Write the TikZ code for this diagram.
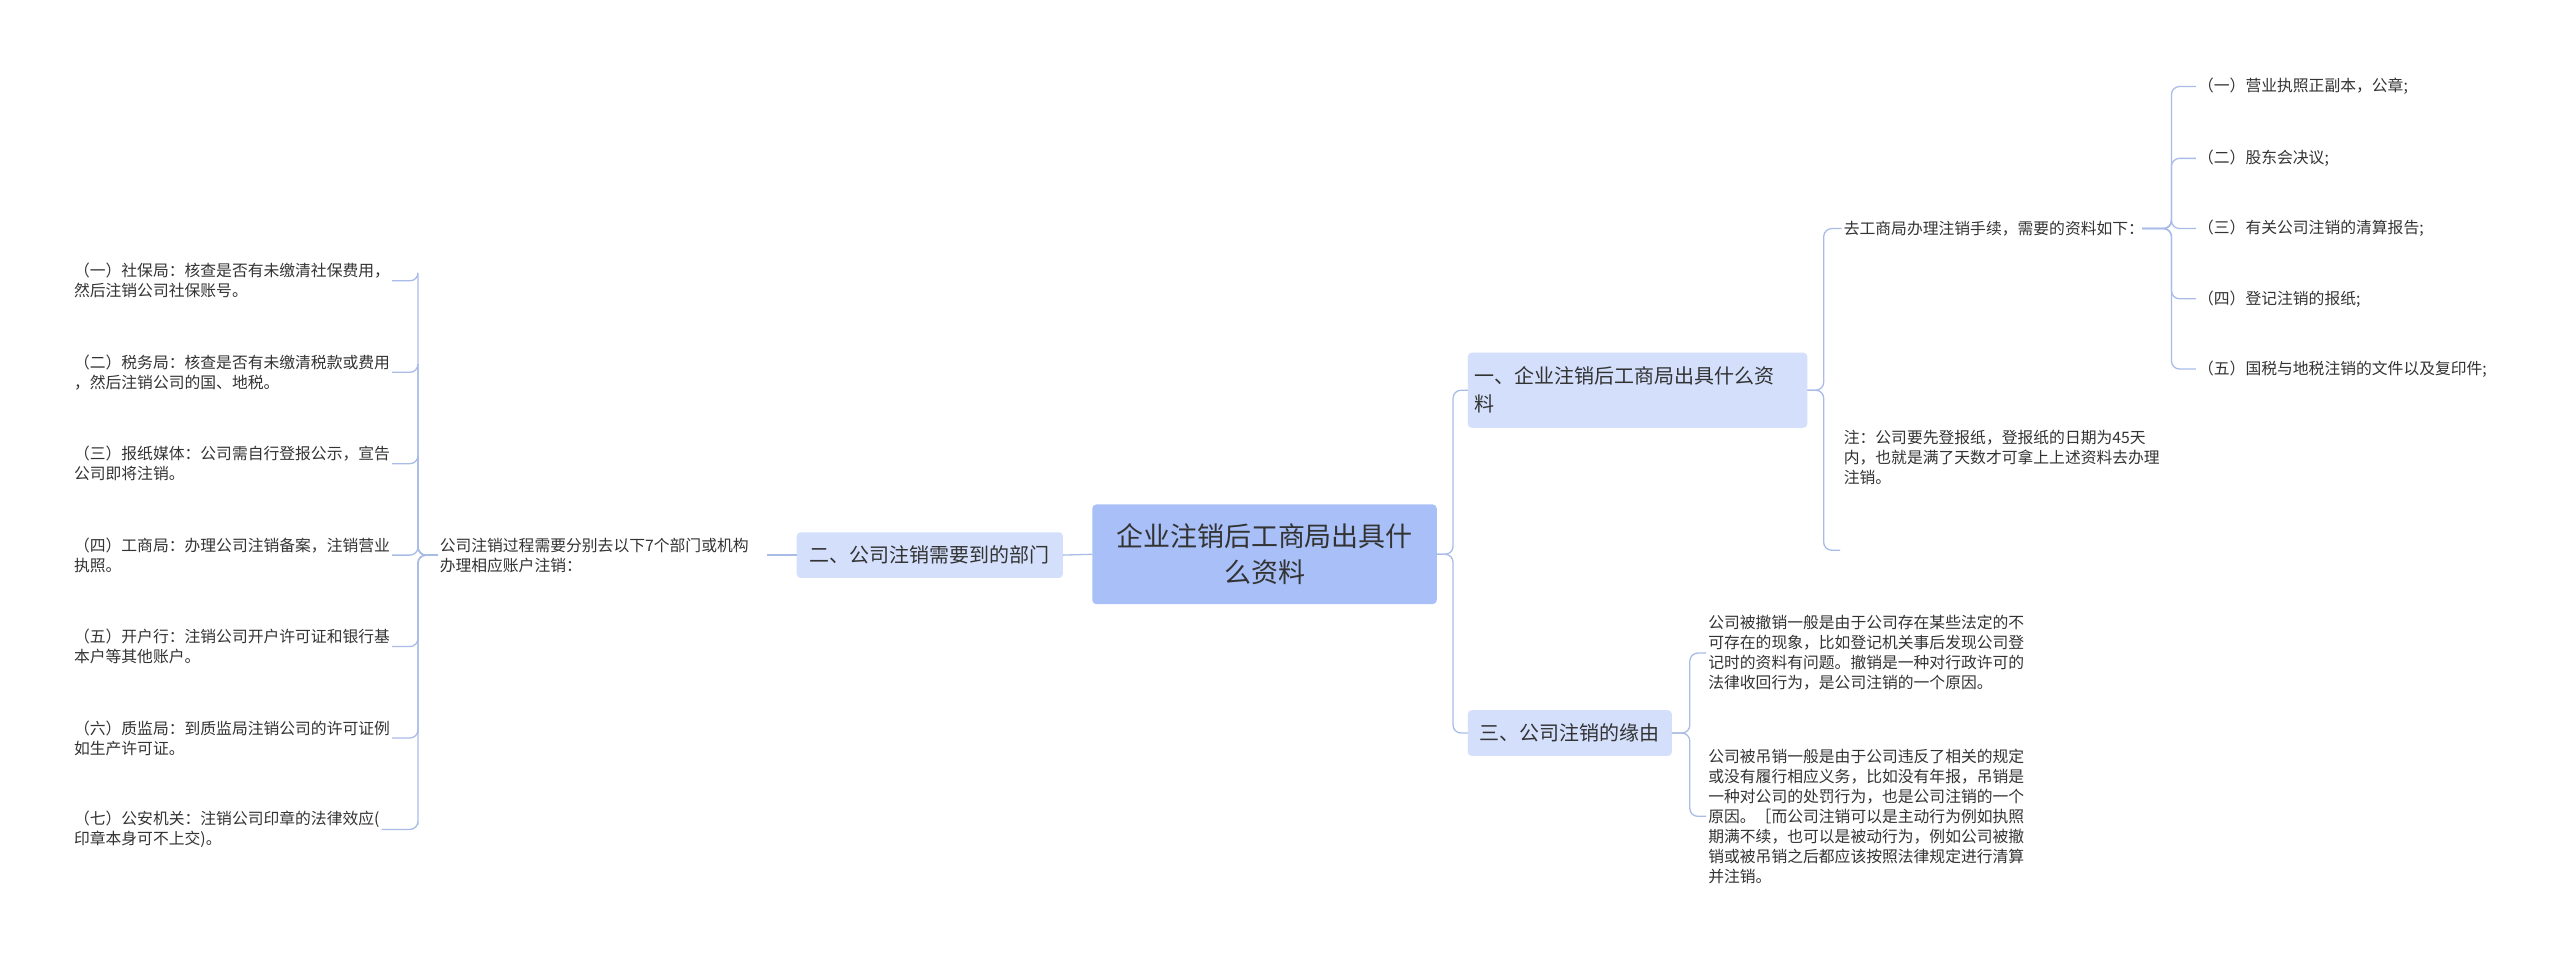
\documentclass[tikz,border=0pt]{standalone}
\usepackage{fontspec}
\setmainfont{Noto Sans CJK SC}
\usetikzlibrary{calc}
\definecolor{lc}{HTML}{A9BCE8}
\definecolor{rootc}{HTML}{A8C0F7}
\definecolor{brc}{HTML}{D3DFFB}
\definecolor{tc}{HTML}{333333}
\begin{document}
\begin{tikzpicture}[x=1.633pt,y=-1.633pt,
 conn/.style={draw=lc,line width=1.3pt,rounded corners=8pt},
 leaf/.style={text=tc,font=\fontsize{15.8}{20}\selectfont,align=left,inner sep=2pt,anchor=west}]
\fill[white] (0,0) rectangle (1568,590);
\useasboundingbox (0,0) rectangle (1568,590);
% root
\fill[rootc,rounded corners=4pt] (669,309) rectangle (880,370);
\node[text=tc,font=\fontsize{27}{36}\selectfont,align=center] (root) at (774.5,339.5) {企业注销后工商局出具什\\么资料};
\coordinate (rootE) at (880,339.5);
\coordinate (rootW) at (669,339.5);
% branches
\fill[brc,rounded corners=4pt] (899,216) rectangle (1107,262);
\node[text=tc,font=\fontsize{20}{28}\selectfont,align=left,anchor=west] (b1) at (901,239) {一、企业注销后工商局出具什么资\\料};
\coordinate (b1W) at (899,239); \coordinate (b1E) at (1107,239);
\fill[brc,rounded corners=4pt] (899,435) rectangle (1024,463);
\node[text=tc,font=\fontsize{20}{28}\selectfont,anchor=center] (b3) at (961.5,449) {三、公司注销的缘由};
\coordinate (b3W) at (899,449); \coordinate (b3E) at (1024,449);
\fill[brc,rounded corners=4pt] (488,326) rectangle (651,354);
\node[text=tc,font=\fontsize{20}{28}\selectfont,anchor=center] (b2) at (569.5,340) {二、公司注销需要到的部门};
\coordinate (b2W) at (488,340); \coordinate (b2E) at (651,340);
\draw[conn] (rootE) -- (890,339.5) |- (b1W);
\draw[conn] (rootE) -- (890,339.5) |- (b3W);
\draw[conn] (rootW) -- (b2E);
% branch 1 children
\node[leaf] (c1) at (1128,140) {去工商局办理注销手续，需要的资料如下：};
\node[leaf,anchor=north west] (c2) at (1128,262) {注：公司要先登报纸，登报纸的日期为45天\\内，也就是满了天数才可拿上上述资料去办理\\注销。};
\coordinate (c2e) at (1127,337);
\draw[conn] (b1E) -- (1117,239) |- (c1.west);
\draw[conn] (b1E) -- (1117,239) |- (c2e);
\foreach \i/\y/\t in {1/53/（一）营业执照正副本，公章;,2/97/（二）股东会决议;,3/140/（三）有关公司注销的清算报告;,4/183/（四）登记注销的报纸;,5/226/（五）国税与地税注销的文件以及复印件;}{
 \node[leaf] (g\i) at (1345,\y) {\t};
 \draw[conn] (1312,140) -- (1330,140) |- (g\i.west);
}
% branch 3 children
\node[leaf] (d1) at (1045,400) {公司被撤销一般是由于公司存在某些法定的不\\可存在的现象，比如登记机关事后发现公司登\\记时的资料有问题。撤销是一种对行政许可的\\法律收回行为，是公司注销的一个原因。};
\node[leaf] (d2) at (1045,500) {公司被吊销一般是由于公司违反了相关的规定\\或没有履行相应义务，比如没有年报，吊销是\\一种对公司的处罚行为，也是公司注销的一个\\原因。［而公司注销可以是主动行为例如执照\\期满不续，也可以是被动行为，例如公司被撤\\销或被吊销之后都应该按照法律规定进行清算\\并注销。};
\draw[conn] (b3E) -- (1035,449) |- (d1.west);
\draw[conn] (b3E) -- (1035,449) |- (d2.west);
% branch 2 children
\node[leaf] (e) at (268,340) {公司注销过程需要分别去以下7个部门或机构\\办理相应账户注销：};
\draw[conn] (b2W) -- (470,340);
\foreach \i/\y/\t in {
1/172/{（一）社保局：核查是否有未缴清社保费用，\\然后注销公司社保账号。},
2/228/{（二）税务局：核查是否有未缴清税款或费用\\，然后注销公司的国、地税。},
3/284/{（三）报纸媒体：公司需自行登报公示，宣告\\公司即将注销。},
4/340/{（四）工商局：办理公司注销备案，注销营业\\执照。},
5/396/{（五）开户行：注销公司开户许可证和银行基\\本户等其他账户。},
6/452/{（六）质监局：到质监局注销公司的许可证例\\如生产许可证。},
7/508/{（七）公安机关：注销公司印章的法律效应(\\印章本身可不上交)。}}{
 \node[leaf] (f\i) at (44,\y) {\t};
 \draw[conn] (e.west) -- (256,340) |- (f\i.east -| 256,0) -- (f\i.east);
}
\end{tikzpicture}
\end{document}
